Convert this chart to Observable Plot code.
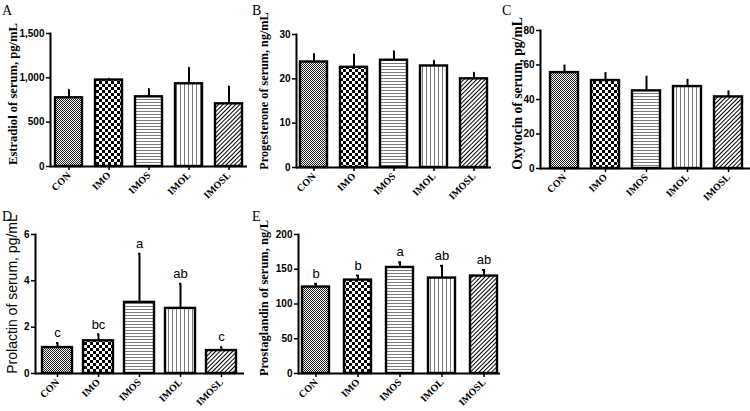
<!DOCTYPE html>
<html><head><meta charset="utf-8">
<script src="https://cdn.jsdelivr.net/npm/d3@7"></script>
<script src="https://cdn.jsdelivr.net/npm/@observablehq/plot@0.6"></script>
<style>
body{margin:0;background:#fff}
#c{position:relative;width:750px;height:411px;overflow:hidden;background:#fff}
.p{position:absolute;overflow:hidden}
.p svg{max-width:none !important}
.lab{position:absolute;font-family:"Liberation Serif",serif;font-size:14px;color:#000}
g[aria-label="y-axis tick label"] text{font-family:"Liberation Sans",sans-serif;font-weight:bold;font-size:10px}
g[aria-label="x-axis tick label"] text{font-family:"Liberation Serif",serif;font-weight:bold;font-size:10px}
</style>
</head><body>
<svg width="0" height="0" style="position:absolute">
<defs>
<pattern id="pat-CON" width="2" height="2" patternUnits="userSpaceOnUse">
<rect width="2" height="2" fill="#fff"/><rect width="1" height="1" fill="#222"/><rect x="1" y="1" width="1" height="1" fill="#222"/>
</pattern>
<pattern id="pat-IMO" width="6" height="6" patternUnits="userSpaceOnUse">
<rect width="6" height="6" fill="#fff"/><rect width="3" height="3" fill="#000"/><rect x="3" y="3" width="3" height="3" fill="#000"/>
</pattern>
<pattern id="pat-IMOS" width="4" height="3" patternUnits="userSpaceOnUse">
<rect width="4" height="3" fill="#fff"/><rect width="4" height="1" fill="#7a7a7a"/>
</pattern>
<pattern id="pat-IMOL" width="4" height="4" patternUnits="userSpaceOnUse">
<rect width="4" height="4" fill="#fff"/><rect width="1" height="4" fill="#7a7a7a"/>
</pattern>
<pattern id="pat-IMOSL" width="3" height="3" patternUnits="userSpaceOnUse" patternTransform="rotate(45)">
<rect width="3" height="3" fill="#fff"/><rect width="1" height="3" fill="#000"/>
</pattern>
</defs>
</svg>
<div id="c"></div>
<script>
const groups = ["CON", "IMO", "IMOS", "IMOL", "IMOSL"];

const estradiolMean = [775, 975, 786, 933, 707];
const estradiolSem  = [90, 15, 87, 182, 196];

const progesteroneMean = [23.8, 22.6, 24.2, 22.9, 20.0];
const progesteroneSem  = [1.8, 2.9, 2.0, 1.2, 1.4];

const oxytocinMean = [55.6, 51.0, 45.0, 47.5, 41.5];
const oxytocinSem  = [4.4, 4.6, 8.5, 4.2, 3.5];

const prolactinMean = [1.12, 1.41, 3.07, 2.81, 0.99];
const prolactinSem  = [0.20, 0.28, 2.10, 1.06, 0.14];
const prolactinLetters = ["c", "bc", "a", "ab", "c"];

const prostaglandinMean = [124.4, 134.4, 152.6, 137.3, 140.2];
const prostaglandinSem  = [4.6, 6.6, 7.4, 17.7, 8.8];
const prostaglandinLetters = ["b", "b", "a", "ab", "ab"];

const ticksA = [0, 500, 1000, 1500];
const ticksB = [0, 10, 20, 30];
const ticksC = [0, 20, 40, 60, 80];
const ticksD = [0, 2, 4, 6];
const ticksE = [0, 50, 100, 150, 200];

const container = document.getElementById("c");

function panel(o) {
  const data = groups.map((g, i) => ({g, m: o.mean[i], s: o.sem[i], l: o.letters ? o.letters[i] : ""}));
  const marks = [
    Plot.ruleX(data, {x: "g", y1: "m", y2: d => d.m + d.s, stroke: "#000", strokeWidth: 2}),
    Plot.tickY(data, {x: "g", y: d => d.m + d.s, stroke: "#000", strokeWidth: 2, insetLeft: o.capInset, insetRight: o.capInset}),
    Plot.barY(data, {x: "g", y: "m", fill: "g", stroke: "#000", strokeWidth: 2.4, inset: 0}),
    Plot.ruleY([0], {stroke: "#000", strokeWidth: 2}),
    Plot.frame({anchor: "left", stroke: "#000", strokeWidth: 2}),
    Plot.axisY({ticks: o.ticks, tickSize: 4, tickPadding: 2, fontWeight: "bold", fontSize: 10, label: null, tickFormat: o.tickFormat || d3.format("d"), strokeWidth: 1.5}),
    Plot.axisX({tickRotate: -45, tickSize: 4, tickPadding: 3, fontWeight: "bold", fontSize: 10, label: null, strokeWidth: 1.5}),
    Plot.text([o.ylabel], {frameAnchor: "left", textAnchor: "middle", dx: o.labelDx, dy: o.labelDy || 0, rotate: -90, text: d => d, fontFamily: o.labelFont, fontWeight: o.labelWeight, fontSize: o.labelSize, fill: "#000"})
  ];
  if (o.letters) {
    marks.push(Plot.text(data, {x: "g", y: d => d.m + d.s, text: "l", dy: -10, fontSize: 13, fontFamily: "Liberation Sans", fill: "#000"}));
  }
  const chart = Plot.plot({
    width: o.svgWidth,
    height: o.height,
    marginLeft: o.xRange[0],
    marginRight: Math.max(0, o.svgWidth - o.xRange[1]),
    marginTop: o.marginTop,
    marginBottom: o.marginBottom,
    style: {background: "transparent", color: "#000", overflow: "visible"},
    x: {domain: groups, range: o.xRange, paddingInner: o.pInner, paddingOuter: o.pOuter, align: 0.5, axis: null},
    y: {domain: o.yDomain, axis: null},
    color: {domain: groups, range: groups.map(g => `url(#pat-${g})`)},
    marks
  });
  const div = document.createElement("div");
  div.className = "p";
  div.style.left = o.left + "px";
  div.style.top = o.top + "px";
  div.style.width = o.width + "px";
  div.style.height = o.height + "px";
  div.appendChild(chart);
  container.appendChild(div);
  const lab = document.createElement("div");
  lab.className = "lab";
  lab.textContent = o.tag;
  lab.style.left = (o.left + 2) + "px";
  lab.style.top = (o.top + o.tagTop) + "px";
  container.appendChild(lab);
}

panel({tag: "A", tagTop: 3, left: 0, top: 0, width: 250, svgWidth: 250, height: 210, marginTop: 33, marginBottom: 44,
  xRange: [50, 247], pInner: 0.325, pOuter: 0.125, capInset: 13, yDomain: [0, 1500], ticks: ticksA, tickFormat: d3.format(","),
  mean: estradiolMean, sem: estradiolSem, ylabel: "Estradiol of serum, pg/mL", labelDx: -38, labelDy: -6,
  labelFont: "Liberation Serif", labelWeight: "bold", labelSize: 12.6});

panel({tag: "B", tagTop: 3, left: 250, top: 0, width: 250, svgWidth: 250, height: 210, marginTop: 34, marginBottom: 43,
  xRange: [46, 241], pInner: 0.325, pOuter: 0.1, capInset: 13, yDomain: [0, 30], ticks: ticksB,
  mean: progesteroneMean, sem: progesteroneSem, ylabel: "Progesterone of serum, ng/mL", labelDx: -32, labelDy: -10,
  labelFont: "Liberation Serif", labelWeight: "bold", labelSize: 12.2});

panel({tag: "C", tagTop: 3, left: 500, top: 0, width: 250, svgWidth: 260, height: 210, marginTop: 30, marginBottom: 42,
  xRange: [40, 252], pInner: 0.325, pOuter: 0.217, capInset: 14, yDomain: [0, 80], ticks: ticksC,
  mean: oxytocinMean, sem: oxytocinSem, ylabel: "Oxytocin of serum, pg/mL", labelDx: -23, labelDy: -6,
  labelFont: "Liberation Serif", labelWeight: "bold", labelSize: 13.6});

panel({tag: "D", tagTop: -1, left: 0, top: 210, width: 250, svgWidth: 250, height: 201, marginTop: 24, marginBottom: 38,
  xRange: [35, 244], pInner: 0.26, pOuter: 0.12, capInset: 14, yDomain: [0, 6], ticks: ticksD,
  mean: prolactinMean, sem: prolactinSem, letters: prolactinLetters, ylabel: "Prolactin of serum, pg/mL", labelDx: -23, labelDy: -10,
  labelFont: "Liberation Sans", labelWeight: "normal", labelSize: 14});

panel({tag: "E", tagTop: -1, left: 250, top: 210, width: 250, svgWidth: 260, height: 201, marginTop: 24, marginBottom: 38,
  xRange: [48, 252], pInner: 0.35, pOuter: 0.05, capInset: 15, yDomain: [0, 200], ticks: ticksE,
  mean: prostaglandinMean, sem: prostaglandinSem, letters: prostaglandinLetters, ylabel: "Prostaglandin of serum, ng/L", labelDx: -35, labelDy: -6,
  labelFont: "Liberation Serif", labelWeight: "bold", labelSize: 12.5});
</script>
</body></html>
